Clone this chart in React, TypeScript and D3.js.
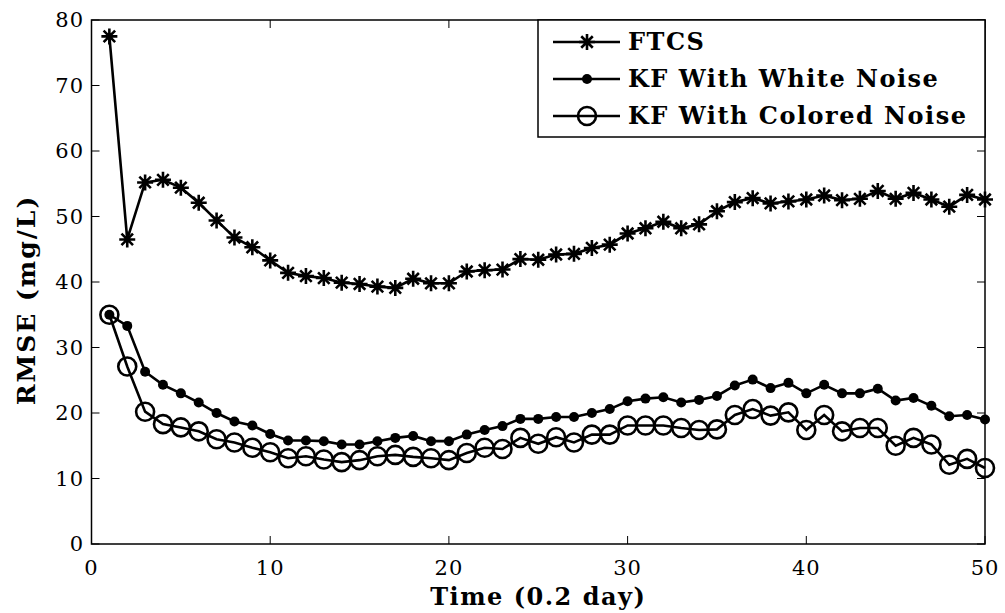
import React from "react";
import * as d3 from "d3";

const timeSteps = [1,2,3,4,5,6,7,8,9,10,11,12,13,14,15,16,17,18,19,20,21,22,23,24,25,26,27,28,29,30,31,32,33,34,35,36,37,38,39,40,41,42,43,44,45,46,47,48,49,50];

const ftcs = [77.5,46.5,55.2,55.6,54.4,52.1,49.4,46.8,45.3,43.3,41.4,40.9,40.6,39.9,39.7,39.3,39.1,40.5,39.8,39.8,41.6,41.8,41.9,43.5,43.4,44.2,44.3,45.2,45.7,47.4,48.2,49.2,48.2,48.8,50.8,52.2,52.8,52.0,52.3,52.6,53.2,52.5,52.7,53.9,52.7,53.6,52.6,51.5,53.3,52.6];

const kfWhite = [35.0,33.3,26.3,24.3,23.0,21.6,20.0,18.7,18.1,16.8,15.8,15.8,15.7,15.2,15.2,15.7,16.2,16.5,15.7,15.7,16.7,17.4,18.0,19.1,19.1,19.4,19.4,20.0,20.6,21.8,22.2,22.4,21.6,22.0,22.6,24.2,25.1,23.8,24.6,23.0,24.3,23.0,23.0,23.7,21.9,22.3,21.1,19.5,19.7,19.0];

const kfColored = [35.0,27.1,20.2,18.3,17.8,17.2,16.0,15.5,14.7,14.0,13.1,13.4,12.9,12.5,12.8,13.4,13.6,13.3,13.1,12.8,13.9,14.7,14.5,16.2,15.3,16.3,15.5,16.7,16.7,18.1,18.1,18.1,17.7,17.4,17.5,19.7,20.6,19.6,20.1,17.4,19.7,17.2,17.7,17.7,15.0,16.2,15.2,12.1,13.0,11.6];

const xTicks = [0, 10, 20, 30, 40, 50];
const yTicks = [0, 10, 20, 30, 40, 50, 60, 70, 80];
const legendLabels = ["FTCS", "KF With White Noise", "KF With Colored Noise"];

const W = 1005, H = 613;
const left = 91.5, right = 985, top = 20, bottom = 544;
const FONT = "'DejaVu Serif', serif";

function starPath(cx: number, cy: number, r: number) {
  const d = r * 0.72;
  return `M${cx - r},${cy}L${cx + r},${cy}M${cx},${cy - r}L${cx},${cy + r}` +
    `M${cx - d},${cy - d}L${cx + d},${cy + d}M${cx - d},${cy + d}L${cx + d},${cy - d}`;
}

function Marker({ kind, x, y }: { kind: string; x: number; y: number }) {
  if (kind === "star") return <path d={starPath(x, y, 8)} stroke="#000" strokeWidth={2.6} fill="none" />;
  if (kind === "dot") return <circle cx={x} cy={y} r={5} fill="#000" />;
  return <circle cx={x} cy={y} r={9} fill="none" stroke="#000" strokeWidth={2.6} />;
}

export default function App() {
  const x = d3.scaleLinear().domain([0, 50]).range([left, right]);
  const y = d3.scaleLinear().domain([0, 80]).range([bottom, top]);
  const line = d3.line<number>().x((_, i) => x(timeSteps[i])).y((d) => y(d));
  const series = [
    { data: ftcs, kind: "star" },
    { data: kfWhite, kind: "dot" },
    { data: kfColored, kind: "circle" },
  ];
  const tl = 8;
  const legX0 = 538, legY0 = 20, legX1 = 985, legY1 = 137;
  const rowsY = [42, 79, 116];
  return (
    <svg width={W} height={H} style={{ position: "absolute", left: 0, top: 0, background: "#fff" }}>
      <rect x={0} y={0} width={W} height={H} fill="#fff" />
      {xTicks.map((t) => (
        <g key={"xt" + t}>
          <line x1={x(t)} x2={x(t)} y1={bottom} y2={bottom - tl} stroke="#000" strokeWidth={1} />
          <line x1={x(t)} x2={x(t)} y1={top} y2={top + tl} stroke="#000" strokeWidth={1} />
          <text x={x(t)} y={575} textAnchor="middle" fontFamily={FONT} fontSize={21} letterSpacing={1} fill="#000">{t}</text>
        </g>
      ))}
      {yTicks.map((t) => (
        <g key={"yt" + t}>
          <line x1={left} x2={left + tl} y1={y(t)} y2={y(t)} stroke="#000" strokeWidth={1} />
          <line x1={right} x2={right - tl} y1={y(t)} y2={y(t)} stroke="#000" strokeWidth={1} />
          <text x={84} y={y(t)} dy="0.35em" textAnchor="end" fontFamily={FONT} fontSize={21} letterSpacing={1} fill="#000">{t}</text>
        </g>
      ))}
      {series.map((s, si) => (
        <g key={"s" + si}>
          <path d={line(s.data) || ""} fill="none" stroke="#000" strokeWidth={2.6} />
          {s.data.map((v, i) => (
            <Marker key={i} kind={s.kind} x={x(timeSteps[i])} y={y(v)} />
          ))}
        </g>
      ))}
      <rect x={left} y={top} width={right - left} height={bottom - top} fill="none" stroke="#000" strokeWidth={1.5} />
      <rect x={legX0} y={legY0} width={legX1 - legX0} height={legY1 - legY0} fill="#fff" stroke="#000" strokeWidth={1.5} />
      {legendLabels.map((lab, i) => (
        <g key={"lg" + i}>
          <line x1={553} x2={620} y1={rowsY[i]} y2={rowsY[i]} stroke="#000" strokeWidth={2.6} />
          <Marker kind={series[i].kind} x={587} y={rowsY[i]} />
          <text x={628} y={rowsY[i]} dy="0.35em" fontFamily={FONT} fontWeight="bold" fontSize={24} letterSpacing={1.5} fill="#000">{lab}</text>
        </g>
      ))}
      <text x={(left + right) / 2} y={605} textAnchor="middle" fontFamily={FONT} fontWeight="bold" fontSize={24} letterSpacing={1.5} fill="#000">Time (0.2 day)</text>
      <text transform={`translate(35,300) rotate(-90)`} textAnchor="middle" fontFamily={FONT} fontWeight="bold" fontSize={25} letterSpacing={2} fill="#000">RMSE (mg/L)</text>
    </svg>
  );
}
